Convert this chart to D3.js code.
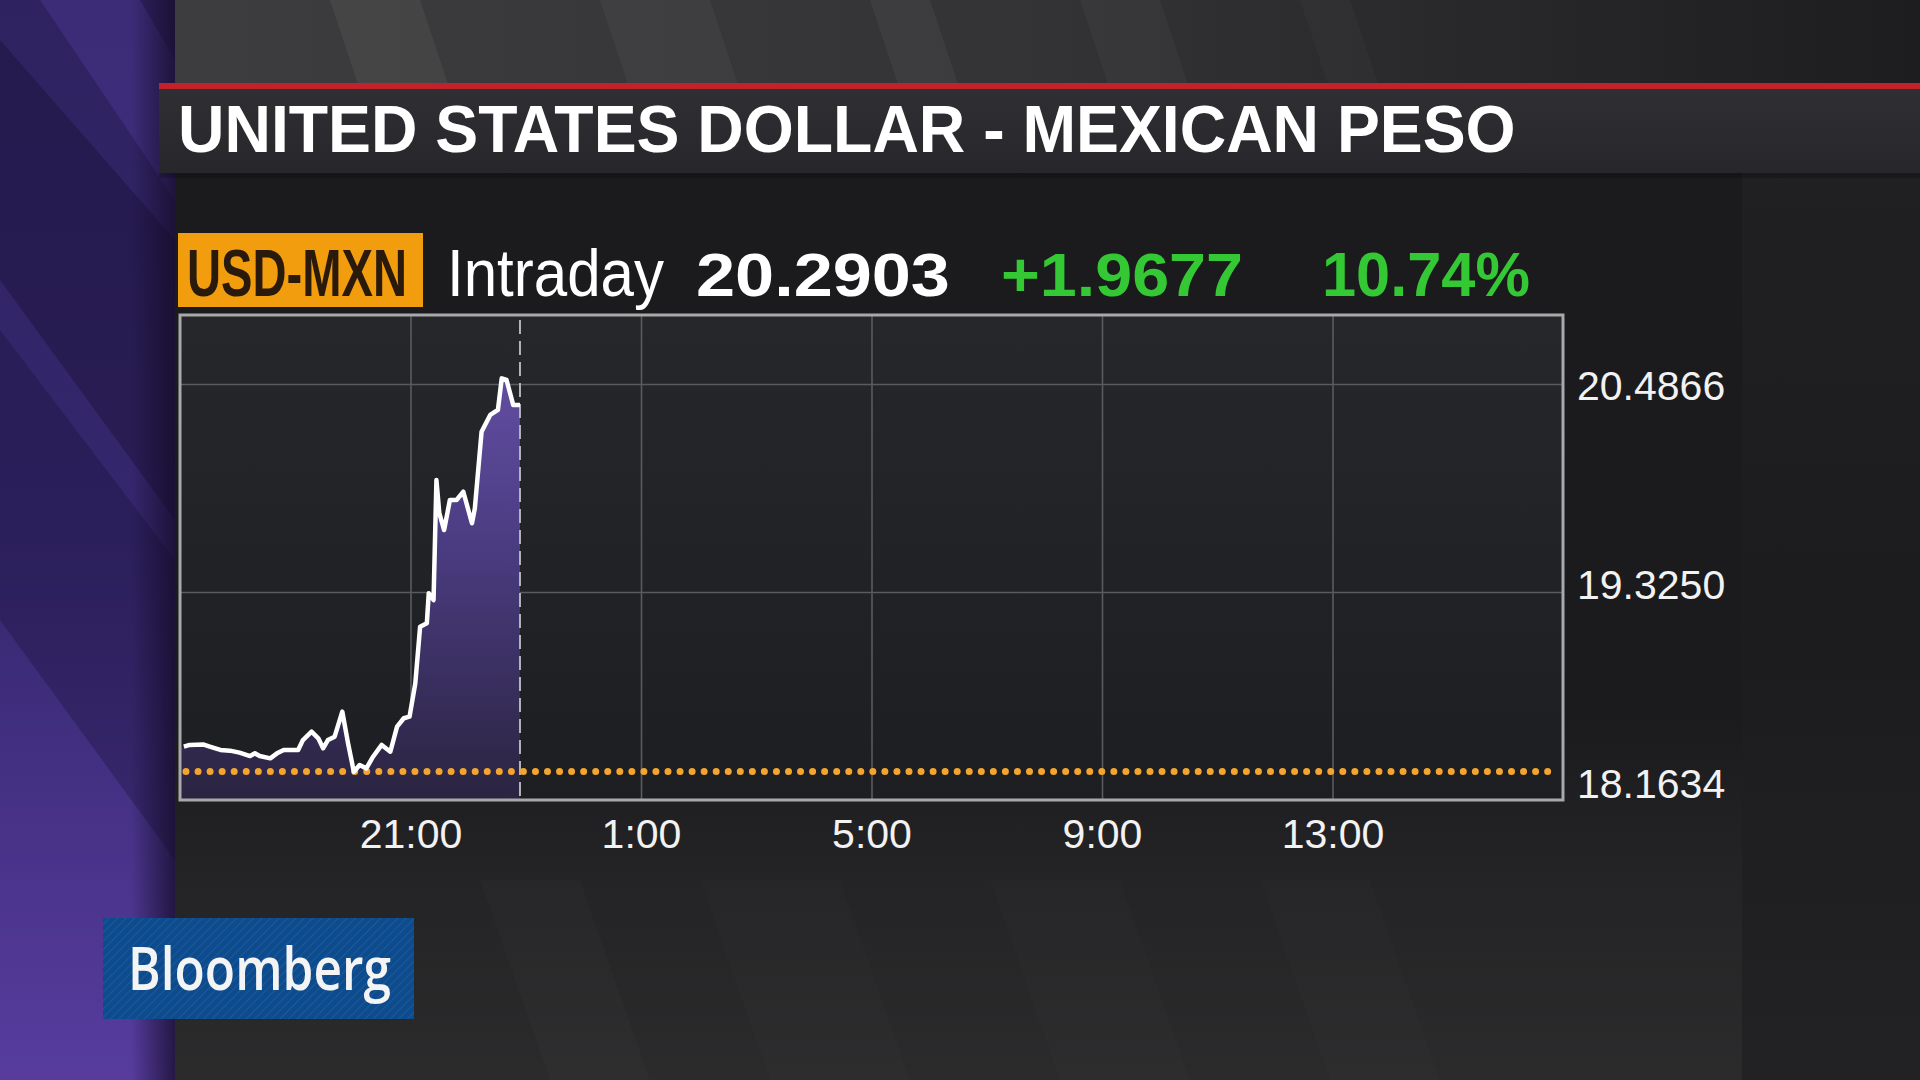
<!DOCTYPE html>
<html>
<head>
<meta charset="utf-8">
<script src="https://cdn.jsdelivr.net/npm/d3@7"></script>
<style>
  html, body { margin: 0; padding: 0; background: #1c1c1e; overflow: hidden; }
  svg { display: block; }
</style>
</head>
<body>
<svg id="chart"></svg>
<script>
// USD-MXN intraday
var times = ["17:04","17:10","17:24","17:31","17:42","17:52","18:02","18:13","18:18","18:23",
  "18:34","18:41","18:48","19:03","19:08","19:17","19:24","19:29","19:34","19:41",
  "19:49","19:55","20:01","20:07","20:14","20:21","20:30","20:39","20:46","20:53",
  "20:59","21:05","21:10","21:17","21:19","21:24","21:27","21:30","21:35","21:41",
  "21:48","21:55","22:04","22:07","22:14","22:23","22:31","22:35","22:40","22:47","22:54"];
var values = [18.461,18.471,18.474,18.461,18.443,18.439,18.428,18.409,18.424,18.409,
  18.396,18.424,18.443,18.443,18.498,18.545,18.508,18.452,18.498,18.517,
  18.657,18.480,18.321,18.359,18.340,18.405,18.471,18.433,18.573,18.620,
  18.629,18.815,19.131,19.150,19.318,19.280,19.950,19.765,19.671,19.839,
  19.839,19.885,19.709,19.792,20.220,20.314,20.342,20.518,20.509,20.369,20.369];
var yTicks = [18.1634, 19.3250, 20.4866];
var yTop = 20.872;
var prevClose = 18.3226;
var xTicks = ["21:00", "1:00", "5:00", "9:00", "13:00"];
var sessionStart = "17:00";

var title = "UNITED STATES DOLLAR - MEXICAN PESO";
var ticker = "USD-MXN";
var period = "Intraday";
var lastPrice = "20.2903";
var netChange = "+1.9677";
var pctChange = "10.74%";

var toDate = s => {
  var p = s.split(':');
  var h = +p[0], m = +p[1];
  return new Date(2016, 10, h >= 17 ? 8 : 9, h, m);
};

var data = times.map((t, i) => ({ date: toDate(t), value: values[i] }));

var W = 1920, H = 1080;
var svg = d3.select('#chart').attr('width', W).attr('height', H);
var defs = svg.append('defs');

function linGrad(id, x1, y1, x2, y2, stops) {
  var g = defs.append('linearGradient').attr('id', id)
    .attr('x1', x1).attr('y1', y1).attr('x2', x2).attr('y2', y2);
  stops.forEach(s => g.append('stop').attr('offset', s[0]).attr('stop-color', s[1]));
  return g;
}

// squeeze a text horizontally so it spans w pixels (broadcast fonts are condensed)
function fit(sel, w) {
  sel.each(function(d) {
    var t = d3.select(this);
    var target = typeof w === 'function' ? w(d) : w;
    var len = this.getComputedTextLength();
    var x0 = +t.attr('x'), y0 = +t.attr('y');
    t.attr('x', 0).attr('y', 0)
      .attr('transform', `translate(${ x0 }, ${ y0 }) scale(${ target / len }, 1)`);
  });
}

linGrad('bgTop', 0, 0, 1, 0, [[0, '#3d3d3f'], [0.5, '#333335'], [1, '#1d1d1f']]);
linGrad('purple', 0, 0, 0, 1, [[0, '#2e2260'], [0.5, '#35276e'], [1, '#573c9e']]);
linGrad('purpleEdge', 0, 0, 1, 0, [[0, 'rgba(20,12,40,0)'], [0.75, 'rgba(20,12,40,0)'], [1, 'rgba(20,12,40,0.75)']]);
linGrad('panel', 0, 0, 0, 1, [[0, '#1b1b1d'], [0.6, '#1b1b1d'], [0.78, '#242426'], [1, '#2b2b2c']]);
linGrad('side', 0, 0, 0, 1, [[0, '#202022'], [0.5, '#1c1c1e'], [1, '#222224']]);
linGrad('titleBar', 0, 0, 0, 1, [[0, '#303034'], [1, '#27272b']]);
linGrad('plotBg', 0, 0, 0, 1, [[0, '#26272a'], [1, '#1d1e21']]);

// background
svg.append('rect').attr('width', W).attr('height', H).attr('fill', '#1c1c1e');
svg.append('rect').attr('x', 175).attr('width', W - 175).attr('height', 90).attr('fill', 'url(#bgTop)');
svg.append('rect').attr('x', 175).attr('y', 173).attr('width', 1567).attr('height', H - 173).attr('fill', 'url(#panel)');
svg.append('rect').attr('x', 1742).attr('y', 173).attr('width', W - 1742).attr('height', H - 173).attr('fill', 'url(#side)');

// soft diagonal bands
var bands = svg.append('g');
[[330, 90, 0.05], [600, 110, 0.04], [870, 60, 0.045], [1080, 80, 0.03], [1300, 50, 0.025]].forEach(b => {
  bands.append('path')
    .attr('d', `M${b[0]},0 L${b[0] + b[1]},0 L${b[0] + b[1] + 30},90 L${b[0] + 30},90 Z`)
    .attr('fill', '#ffffff').attr('opacity', b[2]);
});
[[480, 100, 0.015], [700, 140, 0.012], [990, 130, 0.012], [1260, 110, 0.01]].forEach(b => {
  bands.append('path')
    .attr('d', `M${b[0]},880 L${b[0] + b[1]},880 L${b[0] + b[1] + 70},1080 L${b[0] + 70},1080 Z`)
    .attr('fill', '#ffffff').attr('opacity', b[2]);
});

// purple strip on the left
svg.append('rect').attr('width', 175).attr('height', H).attr('fill', 'url(#purple)');
var pg = svg.append('g');
pg.append('path').attr('d', 'M0,40 L175,240 L175,520 L0,280 Z').attr('fill', '#1a1238').attr('opacity', 0.45);
pg.append('path').attr('d', 'M0,330 L175,560 L175,860 L0,620 Z').attr('fill', '#1a1238').attr('opacity', 0.35);
pg.append('path').attr('d', 'M40,0 L140,0 L175,60 L175,200 Z').attr('fill', '#4a3690').attr('opacity', 0.5);
svg.append('rect').attr('width', 175).attr('height', H).attr('fill', 'url(#purpleEdge)');

// title bar
svg.append('rect').attr('x', 159).attr('y', 173).attr('width', W - 159).attr('height', 5).attr('fill', '#000').attr('opacity', 0.2);
svg.append('rect').attr('x', 159).attr('y', 83).attr('width', W - 159).attr('height', 90).attr('fill', 'url(#titleBar)');
svg.append('rect').attr('x', 159).attr('y', 83).attr('width', W - 159).attr('height', 6).attr('fill', '#c4222b');
svg.append('text')
  .attr('x', 178).attr('y', 152)
  .style('font-family', '"Liberation Sans", Arial, sans-serif')
  .style('font-weight', 'bold').style('font-size', '66px')
  .attr('fill', '#ffffff')
  .text(title)
  .call(fit, 1338);

// header row
svg.append('rect').attr('x', 178).attr('y', 233).attr('width', 245).attr('height', 74).attr('fill', '#f29d0e');
var header = [
  { text: ticker, x: 187, w: 220, size: 66, weight: 'bold', color: '#2a1a0c' },
  { text: period, x: 447, w: 217, size: 66, weight: 'normal', color: '#ffffff' },
  { text: lastPrice, x: 696, w: 254, size: 62, weight: 'bold', color: '#ffffff' },
  { text: netChange, x: 1001, w: 242, size: 62, weight: 'bold', color: '#34c934' },
  { text: pctChange, x: 1322, w: 208, size: 62, weight: 'bold', color: '#34c934' }
];
svg.selectAll('.hdr').data(header).enter().append('text')
  .attr('class', 'hdr')
  .attr('x', d => d.x).attr('y', 296)
  .style('font-family', '"Liberation Sans", Arial, sans-serif')
  .style('font-weight', d => d.weight)
  .style('font-size', d => d.size + 'px')
  .attr('fill', d => d.color)
  .text(d => d.text)
  .call(fit, d => d.w);

// chart
var margin = { top: 315, left: 180 };
var width = 1383, height = 485;

var x = d3.scaleTime()
  .domain([toDate(sessionStart), d3.timeDay.offset(toDate(sessionStart), 1)])
  .range([0, width]);
var y = d3.scaleLinear()
  .domain([yTicks[0], yTop])
  .range([height, 0]);

var chart = svg.append('g')
  .attr('transform', `translate(${ margin.left }, ${ margin.top })`);

linGrad('areaFill', 0, 0, 0, height, [[0, '#6a54ac'], [0.45, '#4c3d84'], [1, '#2a2440']])
  .attr('gradientUnits', 'userSpaceOnUse');

chart.append('rect').attr('width', width).attr('height', height).attr('fill', 'url(#plotBg)');

var xDates = xTicks.map(toDate);

chart.append('g')
  .attr('class', 'grid x')
  .attr('transform', `translate(0, ${ height })`)
  .call(d3.axisBottom(x).tickValues(xDates).tickSize(-height).tickFormat(''));
chart.append('g')
  .attr('class', 'grid y')
  .call(d3.axisLeft(y).tickValues(yTicks.slice(1)).tickSize(-width).tickFormat(''));
chart.selectAll('.grid .domain').remove();
chart.selectAll('.grid line').attr('stroke', '#5a5b5f').attr('stroke-width', 1.6);

var area = d3.area()
  .x(d => x(d.date))
  .y0(height)
  .y1(d => y(d.value));
var line = d3.line()
  .x(d => x(d.date))
  .y(d => y(d.value));

var lastX = x(data[data.length - 1].date);

chart.append('path')
  .datum([{ date: toDate(sessionStart), value: values[0] }].concat(data))
  .attr('d', area)
  .attr('fill', 'url(#areaFill)');

chart.append('line')
  .attr('x1', lastX).attr('x2', lastX)
  .attr('y1', 5).attr('y2', height)
  .attr('stroke', '#b4b4b8').attr('stroke-width', 2)
  .attr('stroke-dasharray', '14,7');

chart.append('line')
  .attr('x1', 6).attr('x2', width - 8)
  .attr('y1', y(prevClose)).attr('y2', y(prevClose))
  .attr('stroke', '#f3a52e').attr('stroke-width', 7)
  .attr('stroke-linecap', 'round')
  .attr('stroke-dasharray', '0,12.05');

chart.append('path')
  .datum(data)
  .attr('d', line)
  .attr('fill', 'none')
  .attr('stroke', '#ffffff')
  .attr('stroke-width', 4.5)
  .attr('stroke-linejoin', 'round');

chart.append('rect')
  .attr('width', width).attr('height', height)
  .attr('fill', 'none').attr('stroke', '#a9a9ac').attr('stroke-width', 3);

// axis labels
var xAxis = chart.append('g')
  .attr('class', 'axis x')
  .attr('transform', `translate(0, ${ height })`)
  .call(d3.axisBottom(x).tickValues(xDates).tickSize(0).tickPadding(0)
    .tickFormat(d => d.getHours() + ':00'));
xAxis.select('.domain').remove();
xAxis.selectAll('text')
  .attr('y', 48).attr('dy', 0)
  .style('font-family', '"Liberation Sans", Arial, sans-serif')
  .style('font-size', '41px')
  .attr('fill', '#f2f2f2');

var labelY = d3.scaleLinear()
  .domain([yTicks[0], yTicks[2]])
  .range([height - 2, y(yTicks[2]) + 16]);

chart.selectAll('.ylab').data(yTicks).enter().append('text')
  .attr('class', 'ylab')
  .attr('x', width + 14)
  .attr('y', d => labelY(d))
  .style('font-family', '"Liberation Sans", Arial, sans-serif')
  .style('font-size', '41px')
  .attr('fill', '#f2f2f2')
  .text(d => d3.format('.4f')(d));

// Bloomberg tag
var pat = defs.append('pattern').attr('id', 'hatch')
  .attr('width', 6).attr('height', 6)
  .attr('patternUnits', 'userSpaceOnUse')
  .attr('patternTransform', 'rotate(45)');
pat.append('rect').attr('width', 6).attr('height', 6).attr('fill', '#0d4b8c');
pat.append('line').attr('x1', 0).attr('y1', 0).attr('x2', 0).attr('y2', 6)
  .attr('stroke', '#195a9c').attr('stroke-width', 2);

svg.append('rect').attr('x', 103).attr('y', 918).attr('width', 311).attr('height', 101).attr('fill', 'url(#hatch)');
svg.append('text')
  .attr('x', 128).attr('y', 990)
  .style('font-family', '"Open Sans", "Liberation Sans", sans-serif')
  .style('font-weight', 600).style('font-size', '60px')
  .attr('fill', '#f4f4f4')
  .text('Bloomberg')
  .call(fit, 263);
</script>
</body>
</html>
